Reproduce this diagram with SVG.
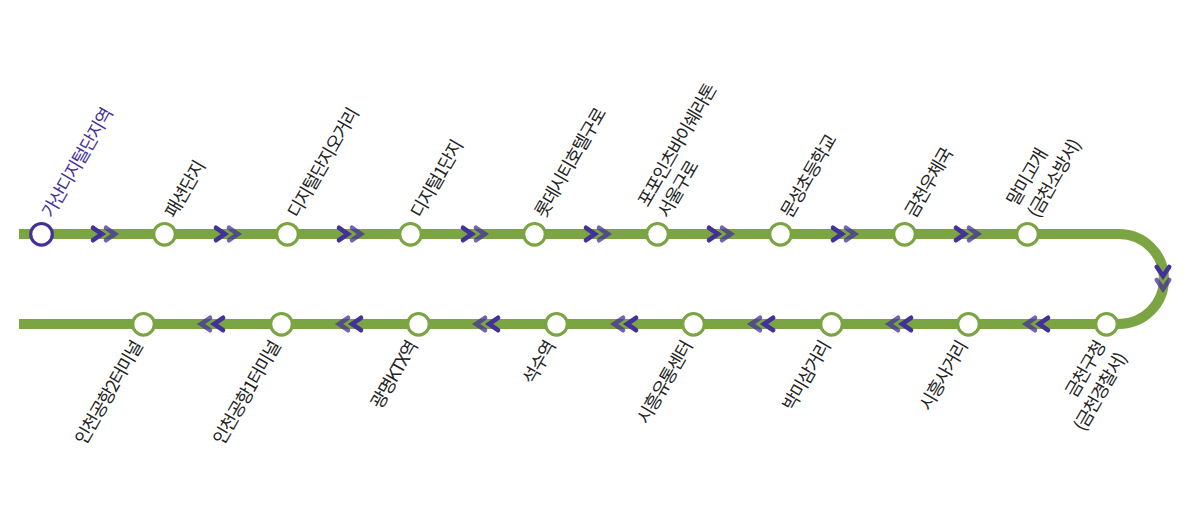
<svg xmlns="http://www.w3.org/2000/svg" width="1187" height="524" viewBox="0 0 1187 524">
<style>
.line{fill:none;stroke:#7ba442;stroke-width:10}
.st{fill:#fff;stroke:#7ba442;stroke-width:3.2}
.first{stroke:#44309a}
.c1,.c2{fill:none;stroke:#44309a;stroke-width:4.6;stroke-linecap:round;stroke-linejoin:miter}
.c2{opacity:.75}
text{font-family:"Noto Sans CJK KR","Noto Sans",sans-serif;font-size:18px;letter-spacing:-1.3px;fill:#222}
.end{text-anchor:end}
</style>
<defs>
<g id="r"><path class="c1" d="M-12-6.2L-3 0L-12 6.2"/><path class="c2" d="M1-6.2L10 0L1 6.2"/></g>
<g id="l"><path class="c1" d="M12-6.2L3 0L12 6.2"/><path class="c2" d="M-1-6.2L-10 0L-1 6.2"/></g>
<g id="d"><path class="c1" d="M-6.2-12L0-3L6.2-12"/><path class="c2" d="M-6.2 1L0 10L6.2 1"/></g>
</defs>
<g id="connectors">
<path class="line" d="M19 234H1119A45 45 0 0 1 1119 324H19"/>
<use href="#r" x="105" y="234"/><use href="#r" x="228" y="234"/><use href="#r" x="351" y="234"/><use href="#r" x="475" y="234"/><use href="#r" x="598" y="234"/><use href="#r" x="721" y="234"/><use href="#r" x="845" y="234"/><use href="#r" x="968" y="234"/>
<use href="#d" x="1163" y="279"/>
<use href="#l" x="1036" y="324"/><use href="#l" x="899" y="324"/><use href="#l" x="761" y="324"/><use href="#l" x="624" y="324"/><use href="#l" x="486" y="324"/><use href="#l" x="349" y="324"/><use href="#l" x="211" y="324"/>
</g>
<g id="s1"><circle class="st first" cx="41.5" cy="234.3" r="10.8"/><text transform="translate(52 219) rotate(-60)" style="fill:#44309a">가산디지털단지역</text></g>
<g id="s2"><circle class="st" cx="164.5" cy="234.3" r="10.8"/><text transform="translate(175 219) rotate(-60)">패션단지</text></g>
<g id="s3"><circle class="st" cx="287.5" cy="234.3" r="10.8"/><text transform="translate(298 219) rotate(-60)">디지털단지오거리</text></g>
<g id="s4"><circle class="st" cx="410.5" cy="234.3" r="10.8"/><text transform="translate(421 219) rotate(-60)">디지털1단지</text></g>
<g id="s5"><circle class="st" cx="534.5" cy="234.3" r="10.8"/><text transform="translate(545 219) rotate(-60)">롯데시티호텔구로</text></g>
<g id="s6"><circle class="st" cx="657.5" cy="234.3" r="10.8"/><text transform="translate(648 208) rotate(-60)">포포인츠바이쉐라톤</text><text transform="translate(668 219) rotate(-60)">서울구로</text></g>
<g id="s7"><circle class="st" cx="780.5" cy="234.3" r="10.8"/><text transform="translate(791 219) rotate(-60)">문성초등학교</text></g>
<g id="s8"><circle class="st" cx="904.5" cy="234.3" r="10.8"/><text transform="translate(915 219) rotate(-60)">금천우체국</text></g>
<g id="s9"><circle class="st" cx="1027.5" cy="234.3" r="10.8"/><text transform="translate(1017 207) rotate(-60)">말미고개</text><text transform="translate(1038 219) rotate(-60)">(금천소방서)</text></g>
<g id="s10"><circle class="st" cx="1106.5" cy="324.3" r="10.8"/><text class="end" transform="translate(1106 346) rotate(-60)">금천구청</text><text class="end" transform="translate(1127 358) rotate(-60)">(금천경찰서)</text></g>
<g id="s11"><circle class="st" cx="968.5" cy="324.3" r="10.8"/><text class="end" transform="translate(968 346) rotate(-60)">시흥사거리</text></g>
<g id="s12"><circle class="st" cx="831.5" cy="324.3" r="10.8"/><text class="end" transform="translate(831 346) rotate(-60)">박미삼거리</text></g>
<g id="s13"><circle class="st" cx="693.5" cy="324.3" r="10.8"/><text class="end" transform="translate(693 346) rotate(-60)">시흥유통센터</text></g>
<g id="s14"><circle class="st" cx="556.5" cy="324.3" r="10.8"/><text class="end" transform="translate(556 346) rotate(-60)">석수역</text></g>
<g id="s15"><circle class="st" cx="418.5" cy="324.3" r="10.8"/><text class="end" transform="translate(418 346) rotate(-60)">광명KTX역</text></g>
<g id="s16"><circle class="st" cx="281.5" cy="324.3" r="10.8"/><text class="end" transform="translate(281 346) rotate(-60)">인천공항1터미널</text></g>
<g id="s17"><circle class="st" cx="143.5" cy="324.3" r="10.8"/><text class="end" transform="translate(143 346) rotate(-60)">인천공항2터미널</text></g>
</svg>
